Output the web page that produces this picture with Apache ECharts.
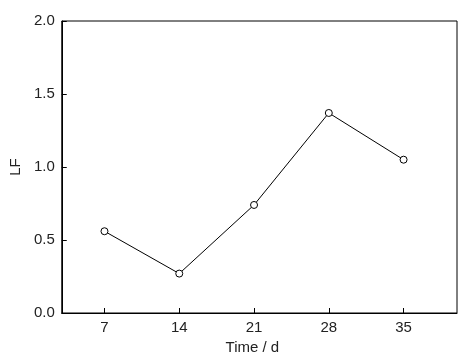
<!DOCTYPE html>
<html>
<head>
<meta charset="utf-8">
<script src="https://cdn.jsdelivr.net/npm/echarts@6/dist/echarts.min.js"></script>
<style>html,body{margin:0;padding:0;background:#fff;}#c{width:467px;height:360px;}</style>
</head>
<body>
<div id="c"></div>
<script>
var days = [7, 14, 21, 28, 35];
var lfValues = [0.56, 0.27, 0.74, 1.37, 1.05];
var xTicks = [7, 14, 21, 28, 35];
var yTicks = [0, 0.5, 1.0, 1.5, 2.0];

var chart = echarts.init(document.getElementById('c'), null, {renderer: 'canvas'});
var font = 'Liberation Sans, Arial, sans-serif';
var textColor = '#222';
chart.setOption({
  animation: false,
  backgroundColor: '#fff',
  grid: {left: 61, right: 10, top: 21, bottom: 47, show: true, borderColor: '#000', borderWidth: 1},
  xAxis: {
    type: 'value', min: 3, max: 40,
    name: 'Time / d', nameLocation: 'middle', nameGap: 20,
    nameTextStyle: {fontFamily: font, fontSize: 15, color: textColor, padding: [0, 14, 0, 0]},
    axisLine: {show: true, lineStyle: {color: '#000', width: 1}},
    axisTick: {show: true, inside: true, length: 5, lineStyle: {color: '#000'}, customValues: xTicks},
    axisLabel: {fontFamily: font, fontSize: 15, color: textColor, margin: 7, customValues: xTicks},
    splitLine: {show: false}
  },
  yAxis: {
    type: 'value', min: 0, max: 2.0, interval: 0.5,
    name: 'LF', nameLocation: 'middle', nameGap: 34,
    nameTextStyle: {fontFamily: font, fontSize: 15, color: textColor},
    axisLine: {show: true, lineStyle: {color: '#000', width: 1}},
    axisTick: {show: true, inside: true, length: 5, lineStyle: {color: '#000'}},
    axisLabel: {fontFamily: font, fontSize: 15, color: textColor, margin: 7,
      formatter: function (v) { return v.toFixed(1); }},
    splitLine: {show: false}
  },
  series: [{
    type: 'line',
    data: days.map(function (d, i) { return [d, lfValues[i]]; }),
    symbol: 'circle', symbolSize: 7,
    itemStyle: {color: '#fff', borderColor: '#000', borderWidth: 1},
    lineStyle: {color: '#000', width: 1}
  }]
});
</script>
</body>
</html>
